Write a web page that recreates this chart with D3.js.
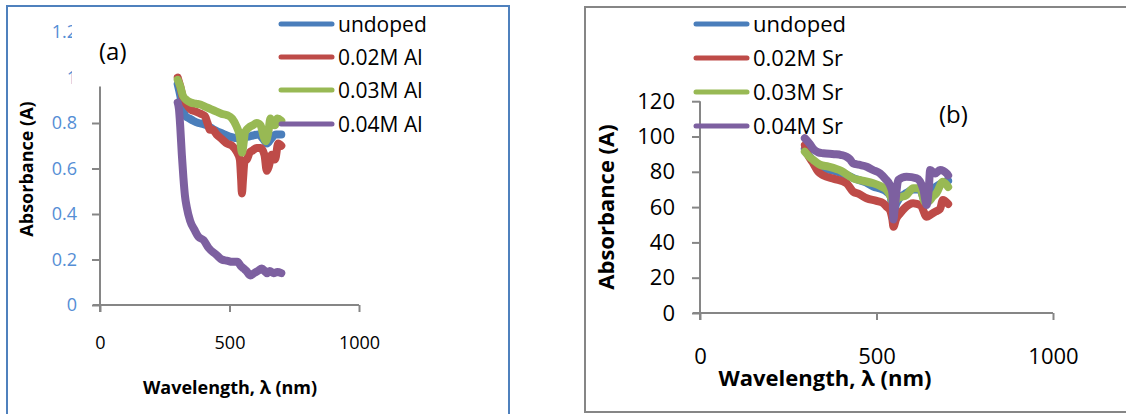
<!DOCTYPE html>
<html>
<head>
<meta charset="utf-8">
<script src="https://cdn.jsdelivr.net/npm/d3@7"></script>
<style>
  body { margin: 0; background: #fff; }
  svg { display: block; font-family: "Open Sans", sans-serif; }
</style>
</head>
<body>
<svg id="chart" width="1126" height="414"></svg>
<script>
// panel (a): Al doped, [wavelength nm, absorbance]
const alUndoped = [[300,0.97],[310,0.92],[320,0.86],[330,0.83],[345,0.82],[360,0.81],[380,0.80],[400,0.795],[420,0.785],[440,0.77],[460,0.76],[480,0.75],[500,0.74],[520,0.735],[540,0.73],[550,0.70],[556,0.74],[570,0.74],[590,0.745],[610,0.75],[630,0.73],[645,0.71],[660,0.73],[680,0.75],[700,0.75]];
const al002 = [[300,1.00],[310,0.96],[320,0.91],[335,0.88],[350,0.86],[370,0.85],[390,0.84],[405,0.83],[415,0.80],[425,0.77],[435,0.77],[450,0.75],[470,0.73],[490,0.71],[510,0.70],[530,0.67],[540,0.64],[545,0.55],[548,0.49],[552,0.55],[558,0.63],[567,0.64],[578,0.67],[590,0.68],[605,0.69],[620,0.69],[635,0.66],[644,0.59],[652,0.61],[663,0.66],[676,0.64],[688,0.71],[700,0.70]];
const al003 = [[300,0.99],[310,0.96],[320,0.92],[335,0.90],[350,0.89],[370,0.885],[390,0.88],[410,0.87],[430,0.86],[450,0.85],[470,0.84],[490,0.835],[510,0.82],[525,0.79],[540,0.74],[548,0.67],[552,0.69],[560,0.76],[575,0.78],[590,0.79],[605,0.80],[620,0.79],[632,0.74],[640,0.72],[650,0.76],[658,0.82],[665,0.80],[675,0.79],[685,0.82],[700,0.81]];
const al004 = [[300,0.89],[305,0.86],[310,0.78],[316,0.66],[322,0.56],[328,0.48],[335,0.43],[348,0.37],[365,0.33],[380,0.30],[400,0.285],[420,0.25],[450,0.22],[470,0.20],[490,0.195],[510,0.19],[530,0.19],[545,0.17],[555,0.16],[565,0.15],[580,0.13],[595,0.14],[610,0.15],[625,0.16],[635,0.15],[645,0.14],[655,0.15],[670,0.14],[685,0.145],[700,0.14]];

// panel (b): Sr doped
const srUndoped = [[297,93],[310,89],[321,86],[335,83],[349,82],[380,80.5],[415,78.2],[440,76],[470,74],[491,71.6],[510,70.5],[529,68.7],[540,66],[548,52],[553,60],[565,65],[585,68],[605,70],[623,70],[637,64],[648,66],[660,70],[680,73],[703,75]];
const sr002 = [[297,95],[305,90],[321,84.8],[335,80],[349,78],[380,76],[415,73.5],[434,68.7],[450,67.5],[472,65],[500,63.5],[519,62.2],[530,60],[538,58.4],[545,53],[548,48.9],[555,53],[567,56.5],[580,59.5],[604,62.2],[625,61],[642,54.6],[655,56],[667,57.4],[680,59],[688,64],[703,61.8]];
const sr003 = [[297,91.4],[310,88.5],[321,86.7],[340,84],[364,82.9],[400,80.5],[434,76.3],[460,75],[491,73.5],[510,72],[529,69.7],[540,66],[548,62.2],[560,65],[585,66.9],[604,70.7],[623,70.7],[637,63],[646,63],[660,66],[670,68],[688,74.4],[703,71.4]];
const sr004 = [[297,99],[310,96],[321,93],[335,91],[349,90.5],[380,90],[400,89.5],[415,88.5],[425,87],[434,84.8],[450,84],[472,82.9],[490,81],[510,79.1],[525,76],[538,72.5],[545,68],[548,53],[552,60],[562,75.4],[585,77.2],[614,76.3],[633,69.7],[642,61.2],[648,70],[652,81],[666,79],[680,81],[699,79],[703,78]];

const colors = ["#4a7ebb", "#be4b48", "#98b954", "#7d60a0"];
const alLabels = ["undoped", "0.02M Al", "0.03M Al", "0.04M Al"];
const srLabels = ["undoped", "0.02M Sr", "0.03M Sr", "0.04M Sr"];
const xTicks = [0, 500, 1000];
const alYTicks = [0, 0.2, 0.4, 0.6, 0.8, 1, 1.2];
const srYTicks = [0, 20, 40, 60, 80, 100, 120];

const svg = d3.select("#chart");

// frames
svg.append("rect")
    .attr("x", 7).attr("y", 6).attr("width", 502).attr("height", 430)
    .attr("fill", "none").attr("stroke", "#4f81bd").attr("stroke-width", 2);
svg.append("rect")
    .attr("x", 585).attr("y", 7).attr("width", 600).attr("height", 405)
    .attr("fill", "none").attr("stroke", "#868686").attr("stroke-width", 2);

// clip for the tick labels that sit above the plot area (in tick coordinates)
svg.append("clipPath").attr("id", "clipTop")
    .append("rect").attr("x", -200).attr("y", -50).attr("width", 172).attr("height", 100);

function drawPanel(p) {
    const g = svg.append("g");
    const x = d3.scaleLinear().domain([0, 1000]).range(p.xRange);
    const y = d3.scaleLinear().domain(p.yDomain).range(p.yRange);

    // x axis
    const xa = g.append("g")
        .attr("transform", `translate(0,${p.yRange[0]})`)
        .call(d3.axisBottom(x).tickValues(xTicks).tickSize(7).tickFormat(d3.format("d")));
    xa.select(".domain").remove();
    xa.selectAll("line").attr("stroke", "#868686").attr("stroke-width", 2);
    xa.selectAll("text")
        .attr("y", p.xLabelOffset).attr("dy", null)
        .attr("fill", "#000")
        .style("font-size", p.tickFont + "px")
        .style("font-family", "Open Sans");
    g.append("line")
        .attr("x1", p.xRange[0] - 7).attr("x2", p.xRange[1])
        .attr("y1", p.yRange[0]).attr("y2", p.yRange[0])
        .attr("stroke", "#868686").attr("stroke-width", 2);

    // y axis
    const ya = g.append("g")
        .attr("transform", `translate(${p.xRange[0]},0)`)
        .call(d3.axisLeft(y).tickValues(p.yTicks).tickSize(8).tickPadding(p.yPad)
            .tickFormat(d3.format("~g")));
    ya.select(".domain").remove();
    ya.selectAll("line")
        .attr("stroke", "#868686").attr("stroke-width", 2)
        .attr("display", d => d > p.yTop ? "none" : null);
    ya.selectAll("text")
        .attr("fill", p.tickColor)
        .style("font-size", p.tickFont + "px")
        .style("font-family", "Open Sans");
    if (p.clipTop) {
        ya.selectAll(".tick").filter(d => d > p.yTop)
            .select("text").attr("clip-path", "url(#clipTop)");
    }
    g.append("line")
        .attr("x1", p.xRange[0]).attr("x2", p.xRange[0])
        .attr("y1", y(p.yTop)).attr("y2", p.yRange[0] + 7)
        .attr("stroke", "#868686").attr("stroke-width", 2);

    // axis titles
    g.append("text")
        .attr("x", p.xTitle[0]).attr("y", p.xTitle[1])
        .attr("text-anchor", "middle")
        .style("font-size", p.titleFont + "px").style("font-weight", "bold")
        .text("Wavelength, λ (nm)");
    g.append("text")
        .attr("transform", `translate(${p.yTitle[0]},${p.yTitle[1]}) rotate(-90)`)
        .attr("text-anchor", "middle").attr("dy", "0.35em")
        .style("font-size", p.titleFont + "px").style("font-weight", "bold")
        .text("Absorbance (A)");

    // series
    const line = d3.line().x(d => x(d[0])).y(d => y(d[1])).curve(d3.curveMonotoneX);
    p.series.forEach((s, i) => {
        g.append("path")
            .datum(s)
            .attr("d", line)
            .attr("fill", "none")
            .attr("stroke", colors[i])
            .attr("stroke-width", 8)
            .attr("stroke-linejoin", "round")
            .attr("stroke-linecap", "round");
    });

    // panel tag
    g.append("text")
        .attr("x", p.tag[0]).attr("y", p.tag[1])
        .attr("dy", "0.35em")
        .style("font-size", "24px")
        .text(p.tagText);

    // legend
    const leg = g.selectAll(".leg").data(p.labels).enter().append("g")
        .attr("transform", (d, i) => `translate(0,${p.legRows[i]})`);
    leg.append("line")
        .attr("x1", p.legX[0]).attr("x2", p.legX[1])
        .attr("stroke", (d, i) => colors[i])
        .attr("stroke-width", 5).attr("stroke-linecap", "round");
    leg.append("text")
        .attr("x", p.legX[2]).attr("dy", "0.36em")
        .style("font-size", p.legFont + "px")
        .text(d => d);
}

drawPanel({
    xRange: [100, 359], yDomain: [0, 1.2], yRange: [305, 32],
    yTop: 0.96, yTicks: alYTicks, yPad: 15, clipTop: true,
    tickColor: "#558ed5", tickFont: 18, xLabelOffset: 44,
    titleFont: 18, xTitle: [230, 394], yTitle: [27, 169],
    series: [alUndoped, al002, al003, al004],
    tag: [99, 52], tagText: "(a)",
    labels: alLabels, legRows: [24, 57, 90, 124], legX: [281, 332, 338], legFont: 21
});

drawPanel({
    xRange: [700, 1053], yDomain: [0, 120], yRange: [313, 101.2],
    yTop: 120, yTicks: srYTicks, yPad: 17, clipTop: false,
    tickColor: "#000", tickFont: 22, xLabelOffset: 51,
    titleFont: 22, xTitle: [825, 386], yTitle: [606, 207],
    series: [srUndoped, sr002, sr003, sr004],
    tag: [939, 115], tagText: "(b)",
    labels: srLabels, legRows: [24, 58, 92, 126], legX: [696, 747, 753], legFont: 22
});
</script>
</body>
</html>
